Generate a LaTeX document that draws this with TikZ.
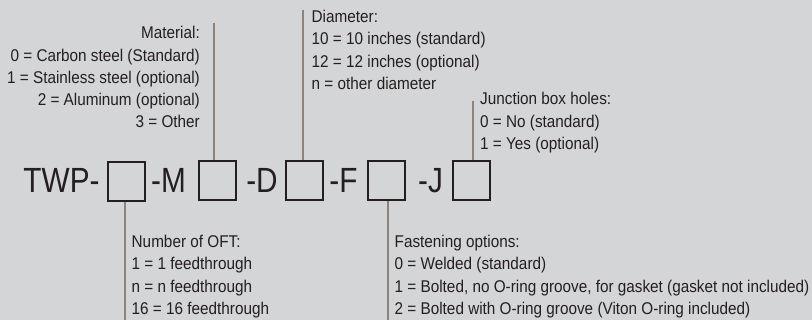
\documentclass[tikz,border=0pt]{standalone}
\usepackage{fontspec}
\setmainfont[FakeStretch=0.9]{Liberation Sans}
\newfontfamily\codefont[FakeStretch=0.85]{Liberation Sans}
\definecolor{bg}{HTML}{D4D5D7}
\definecolor{ink}{HTML}{231F20}
\definecolor{connc}{HTML}{8C837F}
\begin{document}
\begin{tikzpicture}[x=1pt,y=-1pt,
  codebox/.style={draw=ink, line width=2pt, minimum width=37pt, minimum height=39pt, inner sep=0pt},
  codetext/.style={anchor=base, inner sep=0pt, text=ink, font=\codefont\fontsize{35}{40}\selectfont},
  legend/.style={inner sep=0pt, text=ink, font=\fontsize{17}{22.2}\selectfont},
  connline/.style={draw=connc, line width=2pt}]
\useasboundingbox (0,0) rectangle (812,320);
\fill[bg] (0,0) rectangle (812,320);

% code row
\node[codetext] (twp) at (61.5,193) {TWP-};
\node[codebox] (b1) at (126,181.5) {};
\node[codetext] (tm) at (168.5,193) {-M};
\node[codebox] (b2) at (217.5,180.5) {};
\node[codetext] (td) at (262,193) {-D};
\node[codebox] (b3) at (304,180.5) {};
\node[codetext] (tf) at (343.5,193) {-F};
\node[codebox] (b4) at (386.5,181) {};
\node[codetext] (tj) at (430.5,193) {-J};
\node[codebox] (b5) at (471.5,181) {};

% connector ends
\coordinate (mtop) at (214,23);
\coordinate (dtop) at (303,10);
\coordinate (jtop) at (473,101);
\coordinate (nbot) at (125,320);
\coordinate (fbot) at (388,320);

\draw[connline] (mtop) -- (mtop |- b2.north);
\draw[connline] (dtop) -- (dtop |- b3.north);
\draw[connline] (jtop) -- (jtop |- b5.north);
\draw[connline] (nbot |- b1.south) -- (nbot);
\draw[connline] (fbot |- b4.south) -- (fbot);

% legends
\node[legend, anchor=base east] (material) at (200,39) {\begin{tabular}[t]{@{}r@{}}Material:\\
0 = Carbon steel (Standard)\\
1 = Stainless steel (optional)\\
2 = Aluminum (optional)\\
3 = Other\end{tabular}};

\node[legend, anchor=base west] (diameter) at (311.5,22.7) {\begin{tabular}[t]{@{}l@{}}Diameter:\\
10 = 10 inches (standard)\\
12 = 12 inches (optional)\\
n = other diameter\end{tabular}};

\node[legend, anchor=base west] (junction) at (480,105) {\begin{tabular}[t]{@{}l@{}}Junction box holes:\\
0 = No (standard)\\
1 = Yes (optional)\end{tabular}};

\node[legend, anchor=base west] (number) at (131.5,247.7) {\begin{tabular}[t]{@{}l@{}}Number of OFT:\\
1 = 1 feedthrough\\
n = n feedthrough\\
16 = 16 feedthrough\end{tabular}};

\node[legend, anchor=base west] (fastening) at (394.5,247.7) {\begin{tabular}[t]{@{}l@{}}Fastening options:\\
0 = Welded (standard)\\
1 = Bolted, no O-ring groove, for gasket (gasket not included)\\
2 = Bolted with O-ring groove (Viton O-ring included)\end{tabular}};
\end{tikzpicture}
\end{document}
